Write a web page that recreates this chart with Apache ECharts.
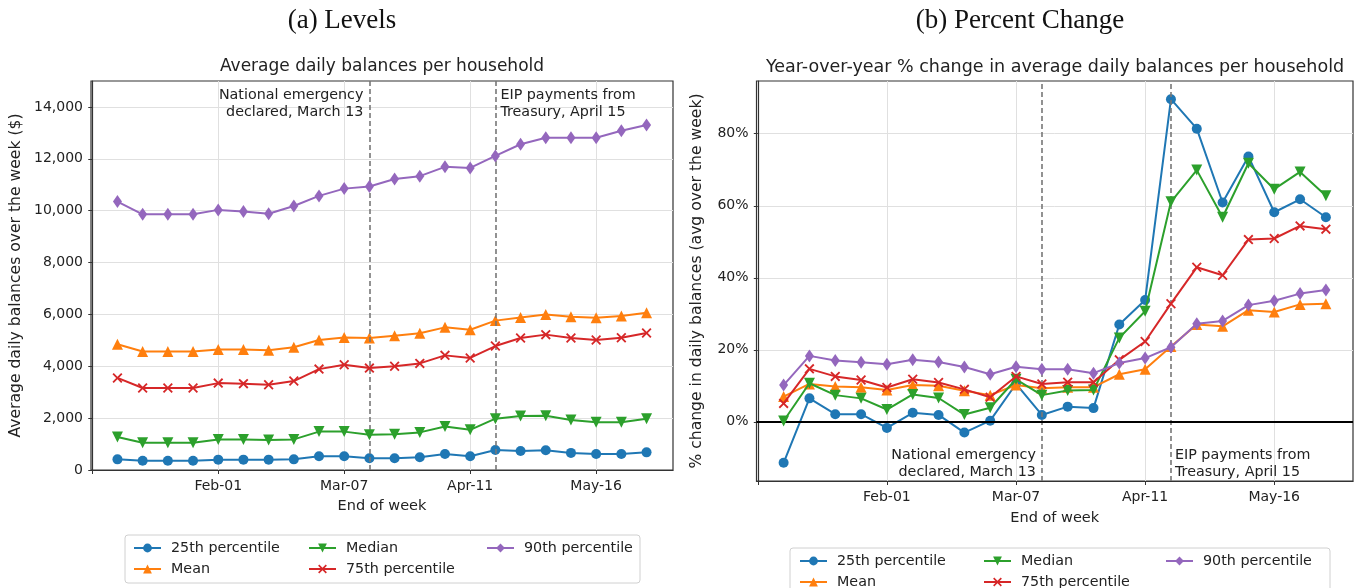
<!DOCTYPE html>
<html><head><meta charset="utf-8">
<script src="https://cdn.jsdelivr.net/npm/echarts@6/dist/echarts.min.js"></script>
<style>html,body{margin:0;padding:0;background:#fff}#c{width:1358px;height:588px}</style>
</head><body><div id="c"></div>
<script>
// ---- data ----
const weeks = ['2020-01-04','2020-01-11','2020-01-18','2020-01-25','2020-02-01','2020-02-08','2020-02-15','2020-02-22','2020-02-29','2020-03-07','2020-03-14','2020-03-21','2020-03-28','2020-04-04','2020-04-11','2020-04-18','2020-04-25','2020-05-02','2020-05-09','2020-05-16','2020-05-23','2020-05-30'];
const seriesNames = ['25th percentile','Mean','Median','75th percentile','90th percentile'];

const lvlP25    = [410,360,360,360,400,400,400,410,530,530,450,450,490,620,530,770,730,760,660,620,620,680];
const lvlMean   = [4850,4570,4570,4570,4650,4650,4620,4730,5010,5110,5090,5180,5270,5500,5410,5760,5880,6000,5910,5870,5940,6060];
const lvlMedian = [1270,1050,1050,1050,1180,1180,1160,1180,1480,1480,1360,1380,1450,1680,1550,1980,2080,2090,1930,1840,1840,1980];
const lvlP75    = [3550,3160,3160,3160,3350,3330,3290,3430,3890,4060,3930,4000,4110,4420,4320,4780,5090,5220,5090,5010,5100,5280];
const lvlP90    = [10350,9860,9860,9860,10030,9970,9880,10180,10570,10850,10930,11220,11330,11690,11650,12110,12560,12810,12810,12810,13080,13300];

const pctP25    = [-11.4,6.5,2.1,2.1,-1.7,2.5,1.9,-3.0,0.3,10.5,1.9,4.2,3.8,27.0,33.8,89.6,81.4,60.9,73.7,58.2,61.8,56.8];
const pctMean   = [7.0,10.5,9.8,9.6,8.8,10.2,10.0,8.6,7.4,10.2,9.3,9.6,9.6,13.2,14.6,20.9,27.0,26.5,31.0,30.5,32.6,32.8];
const pctMedian = [0.2,10.7,7.4,6.5,3.4,7.6,6.6,2.0,3.9,11.8,7.4,8.7,8.8,23.3,30.7,61.1,69.9,56.8,71.8,64.6,69.4,62.8];
const pctP75    = [5.1,14.7,12.6,11.6,9.5,11.8,10.9,9.0,6.8,12.6,10.5,11.0,11.0,17.2,22.3,32.8,42.9,40.7,50.6,50.9,54.4,53.5];
const pctP90    = [10.2,18.3,17.0,16.5,16.0,17.2,16.6,15.2,13.2,15.3,14.6,14.6,13.5,16.3,17.7,20.7,27.2,28.0,32.4,33.6,35.6,36.6];

const xTickDates  = ['2019-12-28','2020-02-01','2020-03-07','2020-04-11','2020-05-16'];
const xTickLabels = ['','Feb-01','Mar-07','Apr-11','May-16'];
const lvlYTicks = [0,2000,4000,6000,8000,10000,12000,14000];
const pctYTicks = [0,20,40,60,80];
const eventWeeks = ['2020-03-14','2020-04-18'];
const eventLabels = ['National emergency\ndeclared, March 13','EIP payments from\nTreasury, April 15'];
const legendColumns = [['25th percentile','Mean'],['Median','75th percentile'],['90th percentile']];

// ---- helpers ----
const base = Date.UTC(2019,11,28);
const dayOf = s => (Date.parse(s + 'T00:00:00Z') - base) / 864e5;
const xs = weeks.map(dayOf);
const xTickVals = xTickDates.map(dayOf);
const evX = eventWeeks.map(dayOf);
const pair = arr => arr.map((v,i) => [xs[i], v]);
const xMin = xs[0] - (xs[xs.length-1]-xs[0])*0.05;
const xMax = xs[xs.length-1] + (xs[xs.length-1]-xs[0])*0.05;
const pctAll = [].concat(pctP25,pctMean,pctMedian,pctP75,pctP90);
const pMin = Math.min(...pctAll), pMax = Math.max(...pctAll);
const pctMin = pMin - (pMax-pMin)*0.05, pctMax = pMax + (pMax-pMin)*0.05;

const colors = ['#1f77b4','#ff7f0e','#2ca02c','#d62728','#9467bd'];
const xPath = 'path://M0,1.3L1.3,0L5,3.7L8.7,0L10,1.3L6.3,5L10,8.7L8.7,10L5,6.3L1.3,10L0,8.7L3.7,5Z';
const symbols = ['circle','triangle','triangle',xPath,'diamond'];
const rots = [0,0,180,0,0];
const sizes = [10,11,11,10,[9,13]];
const FONT = 'DejaVu Sans';
const TXT = '#222';

function mkSeries(idx, data, xi) {
  return {
    name: seriesNames[idx], type: 'line', xAxisIndex: xi, yAxisIndex: xi,
    data: pair(data), symbol: symbols[idx], symbolRotate: rots[idx], symbolSize: sizes[idx],
    symbolKeepAspect: true,
    lineStyle: {width: 2, color: colors[idx]}, itemStyle: {color: colors[idx]},
    color: colors[idx], emphasis: {disabled: true}, z: 3 + idx
  };
}
const dashed = {type: [5,3], color: '#777', width: 1.6};
const annoLabel = {show: true, position: 'inside', fontFamily: FONT, fontSize: 14.3, lineHeight: 17, color: TXT};

const lvlSeries = [lvlP25,lvlMean,lvlMedian,lvlP75,lvlP90].map((d,i) => mkSeries(i, d, 0));
lvlSeries[0].markLine = {silent: true, symbol: 'none', label: {show: false}, lineStyle: dashed,
  data: evX.map(x => ({xAxis: x}))};
lvlSeries[0].markPoint = {silent: true, symbol: 'rect', symbolSize: 0,
  data: [
    {name: eventLabels[0], coord: [evX[0], 14110], label: Object.assign({}, annoLabel, {align: 'right', offset: [-6,0], formatter: eventLabels[0]})},
    {name: eventLabels[1], coord: [evX[1], 14110], label: Object.assign({}, annoLabel, {align: 'left', offset: [5,0], formatter: eventLabels[1]})}
  ]};

const pctSeries = [pctP25,pctMean,pctMedian,pctP75,pctP90].map((d,i) => mkSeries(i, d, 1));
pctSeries[0].markLine = {silent: true, symbol: 'none', label: {show: false},
  data: [
    {xAxis: evX[0], lineStyle: dashed},
    {xAxis: evX[1], lineStyle: dashed},
    {yAxis: 0, lineStyle: {type: 'solid', color: '#000', width: 2}}
  ]};
pctSeries[0].markPoint = {silent: true, symbol: 'rect', symbolSize: 0,
  data: [
    {name: eventLabels[0], coord: [evX[0], -11.6], label: Object.assign({}, annoLabel, {align: 'right', offset: [-6,0], formatter: eventLabels[0]})},
    {name: eventLabels[1], coord: [evX[1], -11.6], label: Object.assign({}, annoLabel, {align: 'left', offset: [4,0], formatter: eventLabels[1]})}
  ]};

function xAxisCfg(gi, nameGap) {
  return {
    type: 'value', gridIndex: gi, min: xMin, max: xMax,
    name: 'End of week', nameLocation: 'middle', nameGap: nameGap,
    nameTextStyle: {fontFamily: FONT, fontSize: 14.5, color: TXT},
    axisLine: {show: true, onZero: false, lineStyle: {color: '#333', width: 1.2}},
    axisTick: {show: true, length: 4, customValues: xTickVals, lineStyle: {color: '#333'}},
    axisLabel: {customValues: xTickVals, margin: 9, fontFamily: FONT, fontSize: 14, color: TXT,
      formatter: v => { const k = xTickVals.findIndex(t => Math.abs(t - v) < 0.01); return k >= 0 ? xTickLabels[k] : ''; }},
    splitLine: {show: true, lineStyle: {color: '#e0e0e0', width: 1}}
  };
}
function yAxisCfg(gi, min, max, ticks, name, nameGap, fmt) {
  return {
    type: 'value', gridIndex: gi, min: min, max: max,
    name: name, nameLocation: 'middle', nameGap: nameGap, nameRotate: 90,
    nameTextStyle: {fontFamily: FONT, fontSize: 15.6, color: TXT},
    axisLine: {show: true, lineStyle: {color: '#333', width: 1.2}},
    axisTick: {show: true, length: 4, customValues: ticks, lineStyle: {color: '#333'}},
    axisLabel: {customValues: ticks, margin: 8, fontFamily: FONT, fontSize: 14, color: TXT, formatter: fmt},
    splitLine: {show: true, lineStyle: {color: '#e0e0e0', width: 1}}
  };
}

function colLegend(left, top, names) {
  return {
    left: left, top: top, orient: 'vertical', padding: 0, height: 60, width: 200,
    itemWidth: 27, itemHeight: 11, itemGap: 7,
    textStyle: {fontFamily: FONT, fontSize: 14.3, color: TXT, lineHeight: 14, padding: [0,0,0,5]},
    data: names
  };
}
const legLeftX = [133, 308, 486], legRightX = [799, 983, 1165];

const chart = echarts.init(document.getElementById('c'), null, {renderer: 'canvas'});
chart.setOption({
  animation: false,
  backgroundColor: '#fff',
  grid: [
    {left: 91, top: 81, width: 582, height: 389, show: true, borderColor: '#333', borderWidth: 1.2, containLabel: false},
    {left: 756.5, top: 81, width: 596.5, height: 400, show: true, borderColor: '#333', borderWidth: 1.2, containLabel: false}
  ],
  xAxis: [xAxisCfg(0, 29), xAxisCfg(1, 30)],
  yAxis: [
    yAxisCfg(0, 0, 15000, lvlYTicks, 'Average daily balances over the week ($)', 67, v => v.toLocaleString('en-US')),
    yAxisCfg(1, pctMin, pctMax, pctYTicks, '% change in daily balances (avg over the week)', 52, v => Math.round(v) + '%')
  ],
  legend: legendColumns.map((c,i) => colLegend(legLeftX[i], 541, c))
    .concat(legendColumns.map((c,i) => colLegend(legRightX[i], 554, c))),
  graphic: [
    {type: 'text', x: 342, y: 21, style: {text: '(a) Levels', font: '27px "Liberation Serif"', fill: '#111', textAlign: 'center', textVerticalAlign: 'middle'}},
    {type: 'text', x: 1020, y: 21, style: {text: '(b) Percent Change', font: '27px "Liberation Serif"', fill: '#111', textAlign: 'center', textVerticalAlign: 'middle'}},
    {type: 'text', x: 382, y: 67, style: {text: 'Average daily balances per household', font: '17px "DejaVu Sans"', fill: TXT, textAlign: 'center', textVerticalAlign: 'middle'}},
    {type: 'text', x: 1055, y: 67, style: {text: 'Year-over-year % change in average daily balances per household', font: '17.5px "DejaVu Sans"', fill: TXT, textAlign: 'center', textVerticalAlign: 'middle'}},
    {type: 'rect', shape: {x: 125, y: 535, width: 515, height: 48, r: 3}, style: {fill: 'none', stroke: '#d0d0d0', lineWidth: 1}, z: -1},
    {type: 'rect', shape: {x: 790, y: 548, width: 540, height: 50, r: 3}, style: {fill: 'none', stroke: '#d0d0d0', lineWidth: 1}, z: -1}
  ],
  series: lvlSeries.concat(pctSeries)
});
</script></body></html>
